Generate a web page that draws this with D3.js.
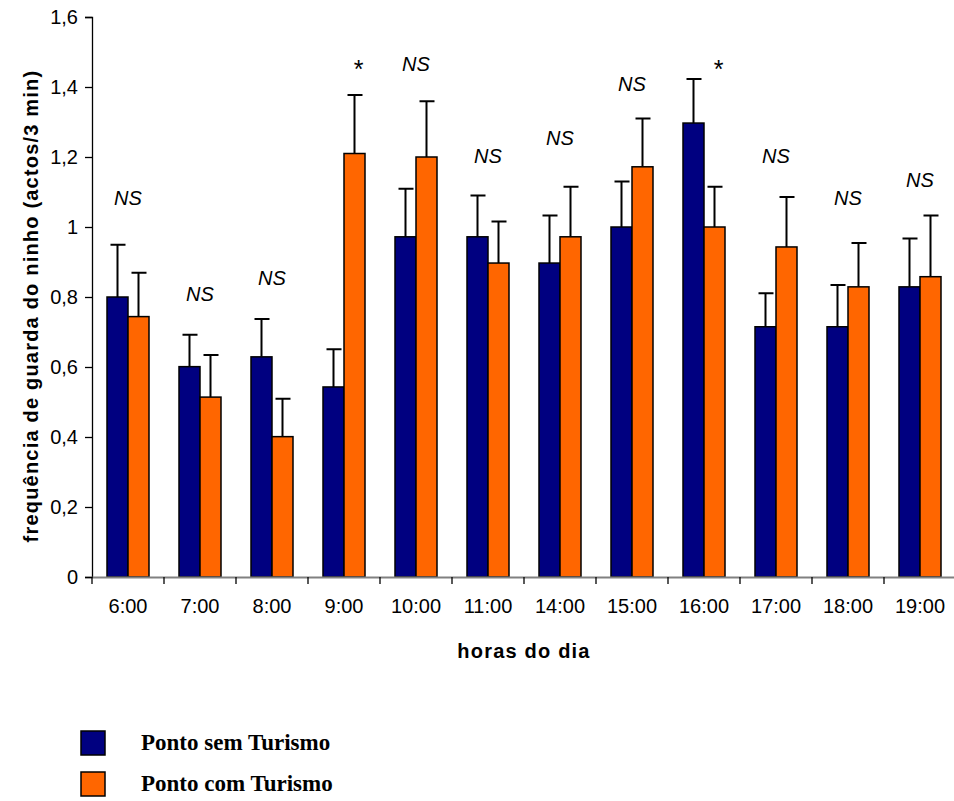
<!DOCTYPE html>
<html lang="pt">

<head>
    <meta charset="UTF-8">
    <title>Guarda do ninho</title>
    <script src="https://d3js.org/d3.v7.min.js"></script>
    <style>
        body { margin: 0; background: #fff; }
        text { font-family: Arial, "Liberation Sans", sans-serif; fill: #000; }
    </style>
</head>

<body>
    <div id="container"></div>

    <script>
        // horas do dia
        var hours = ["6:00", "7:00", "8:00", "9:00", "10:00", "11:00", "14:00", "15:00", "16:00", "17:00", "18:00", "19:00"];

        // frequencia media (actos/3 min)
        var semTurismo = [0.800, 0.601, 0.629, 0.543, 0.972, 0.972, 0.897, 1.000, 1.297, 0.715, 0.715, 0.829];
        var comTurismo = [0.744, 0.514, 0.401, 1.210, 1.200, 0.897, 0.972, 1.172, 1.000, 0.943, 0.829, 0.858];

        // barras de erro (so para cima)
        var erroSem = [0.149, 0.091, 0.108, 0.108, 0.137, 0.118, 0.136, 0.130, 0.126, 0.096, 0.119, 0.138];
        var erroCom = [0.125, 0.120, 0.108, 0.167, 0.159, 0.119, 0.143, 0.138, 0.115, 0.143, 0.125, 0.175];

        // significancia e altura da anotacao (no eixo y)
        var signif = ["NS", "NS", "NS", "*", "NS", "NS", "NS", "NS", "*", "NS", "NS", "NS"];
        var signifLevel = [1.063, 0.789, 0.834, 1.426, 1.446, 1.183, 1.234, 1.389, 1.426, 1.183, 1.063, 1.114];

        var yTicks = [0, 0.2, 0.4, 0.6, 0.8, 1, 1.2, 1.4, 1.6];
        var seriesNames = ["Ponto sem Turismo", "Ponto com Turismo"];
        var colors = ["#000080", "#ff6600"];

        var width = 954, height = 801;
        var mLeft = 92, mTop = 17, plotW = 864, plotH = 560;

        var svg = d3.select("#container")
            .append("svg")
            .attr("width", width)
            .attr("height", height);

        var x = d3.scaleBand().domain(hours).range([mLeft, mLeft + plotW]);
        var xs = d3.scaleBand().domain([0, 1]).range([15, 57]);
        var y = d3.scaleLinear().domain([0, 1.6]).range([mTop + plotH, mTop]);

        var rows = hours.map(function (h, i) {
            return {
                hour: h,
                vals: [semTurismo[i], comTurismo[i]],
                errs: [erroSem[i], erroCom[i]],
                sig: signif[i],
                level: signifLevel[i]
            };
        });

        // eixo y
        var fmt = function (d) { return String(d).replace(".", ","); };
        var yAxis = svg.append("g")
            .attr("transform", "translate(" + mLeft + ",0)")
            .call(d3.axisLeft(y).tickValues(yTicks).tickFormat(fmt).tickSize(7).tickPadding(7));
        yAxis.select(".domain").attr("stroke", "#000").attr("stroke-width", 1.3);
        yAxis.selectAll(".tick line").attr("stroke", "#000").attr("stroke-width", 1.3);
        yAxis.selectAll(".tick text").style("font-size", "20px").attr("fill", "#000");

        // barras
        var groups = svg.selectAll(".grp")
            .data(rows)
            .enter()
            .append("g")
            .attr("transform", function (d) { return "translate(" + x(d.hour) + ",0)"; });

        // barras de erro
        groups.selectAll(".err")
            .data(function (d) { return d.vals.map(function (v, k) { return { v: v, e: d.errs[k], k: k }; }); })
            .enter()
            .append("path")
            .attr("d", function (d) {
                var cx = xs(d.k) + xs.bandwidth() / 2;
                var yt = y(d.v + d.e);
                return "M" + cx + "," + y(d.v) + "V" + yt + "M" + (cx - 7) + "," + yt + "H" + (cx + 8);
            })
            .attr("stroke", "#000")
            .attr("stroke-width", 2)
            .attr("fill", "none");

        groups.selectAll(".bar")
            .data(function (d) { return d.vals.map(function (v, k) { return { v: v, k: k }; }); })
            .enter()
            .append("rect")
            .attr("x", function (d) { return xs(d.k); })
            .attr("y", function (d) { return y(d.v); })
            .attr("width", xs.bandwidth())
            .attr("height", function (d) { return y(0) - y(d.v); })
            .attr("fill", function (d) { return colors[d.k]; })
            .attr("stroke", "#000")
            .attr("stroke-width", 1.5);

        // anotacoes NS / *
        groups.append("text")
            .attr("x", function (d) {
                return d.sig == "*" ? xs(1) + xs.bandwidth() / 2 + 4 : x.bandwidth() / 2;
            })
            .attr("y", function (d) { return y(d.level); })
            .attr("text-anchor", "middle")
            .style("font-size", function (d) { return d.sig == "*" ? "25px" : "20px"; })
            .style("font-style", function (d) { return d.sig == "*" ? "normal" : "italic"; })
            .text(function (d) { return d.sig; });

        // eixo x
        var xAxis = svg.append("g")
            .attr("transform", "translate(0," + (mTop + plotH) + ")")
            .call(d3.axisBottom(x).tickSize(0).tickPadding(22));
        xAxis.select(".domain").attr("stroke", "#808080").attr("stroke-width", 2);
        xAxis.selectAll(".tick text").style("font-size", "20px").attr("fill", "#000");
        xAxis.selectAll(".sep")
            .data(hours)
            .enter()
            .append("line")
            .attr("x1", function (d) { return x(d); })
            .attr("x2", function (d) { return x(d); })
            .attr("y1", 0)
            .attr("y2", 7)
            .attr("stroke", "#000")
            .attr("stroke-width", 1.3);

        // titulos
        svg.append("text")
            .attr("x", mLeft + plotW / 2)
            .attr("y", 658)
            .attr("text-anchor", "middle")
            .style("font-size", "20px")
            .style("font-weight", "bold")
            .style("letter-spacing", "1.2px")
            .text("horas do dia");

        svg.append("text")
            .attr("transform", "translate(38,306) rotate(-90)")
            .attr("text-anchor", "middle")
            .style("font-size", "20px")
            .style("font-weight", "bold")
            .style("letter-spacing", "1.2px")
            .text("frequência de guarda do ninho (actos/3 min)");

        // legenda
        var legend = svg.selectAll(".leg")
            .data(seriesNames)
            .enter()
            .append("g")
            .attr("transform", function (d, i) { return "translate(81," + (731 + i * 41) + ")"; });

        legend.append("rect")
            .attr("width", 24)
            .attr("height", 24)
            .attr("fill", function (d, i) { return colors[i]; })
            .attr("stroke", "#000")
            .attr("stroke-width", 1.5);

        legend.append("text")
            .attr("x", 60)
            .attr("y", 18.5)
            .style("font-family", "'Liberation Serif', 'Times New Roman', serif")
            .style("font-size", "23px")
            .style("font-weight", "bold")
            .text(function (d) { return d; });
    </script>
</body>

</html>
